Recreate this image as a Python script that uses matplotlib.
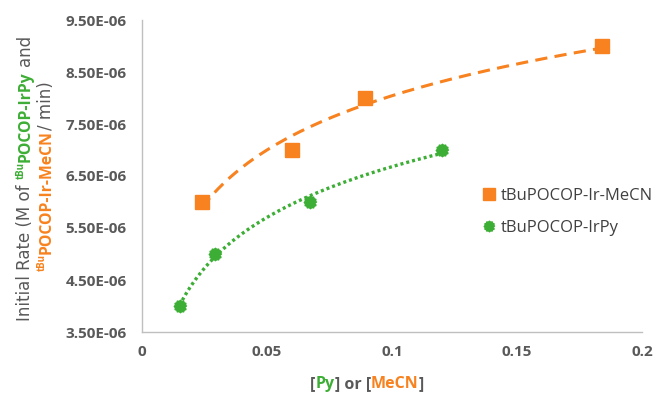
import numpy as np
import matplotlib
matplotlib.use('Agg')
import matplotlib.pyplot as plt
from matplotlib.transforms import IdentityTransform

plt.rcParams['font.family'] = ['Open Sans', 'DejaVu Sans']

# data
mecn_x = [0.024, 0.060, 0.089, 0.184]
mecn_y = [6.0e-6, 7.0e-6, 8.0e-6, 9.0e-6]
py_x = [0.015, 0.029, 0.067, 0.120]
py_y = [4.0e-6, 5.0e-6, 6.0e-6, 7.0e-6]

xticks = [0, 0.05, 0.1, 0.15, 0.2]
xtick_labels = ['0', '0.05', '0.1', '0.15', '0.2']
yticks = [3.5e-6, 4.5e-6, 5.5e-6, 6.5e-6, 7.5e-6, 8.5e-6, 9.5e-6]

ORANGE = '#F7821F'
GREEN = '#3DAE35'
GRAY = '#595959'

W, H = 663, 394
fig = plt.figure(figsize=(W / 100, H / 100), dpi=100)
ax = fig.add_axes([142 / W, 62 / H, 500 / W, 312 / H])

# serrated round marker for the IrPy series
ang = np.linspace(0, 2 * np.pi, 24, endpoint=False)
rad = np.where(np.arange(24) % 2 == 0, 1.0, 0.84)
gear = list(zip(rad * np.cos(ang), rad * np.sin(ang)))

# logarithmic trendlines (as Excel draws them)
def log_trend(x, y):
    a, b = np.polyfit(np.log(x), y, 1)
    xs = np.linspace(min(x), max(x), 200)
    return xs, a * np.log(xs) + b

tx, ty = log_trend(mecn_x, mecn_y)
ax.plot(tx, ty, color=ORANGE, lw=2.2, linestyle=(0, (4, 2.4)))
tx, ty = log_trend(py_x, py_y)
ax.plot(tx, ty, color=GREEN, lw=2.4, linestyle=(0, (0.9, 0.9)))

h1, = ax.plot(mecn_x, mecn_y, linestyle='none', marker='s', ms=10,
              color=ORANGE, label='tBuPOCOP-Ir-MeCN')
h2, = ax.plot(py_x, py_y, linestyle='none', marker=gear, ms=9,
              color=GREEN, label='tBuPOCOP-IrPy')

ax.set_xlim(0, 0.2)
ax.set_ylim(3.5e-6, 9.5e-6)
ax.set_xticks(xticks)
ax.set_xticklabels(xtick_labels)
ax.set_yticks(yticks)
ax.set_yticklabels(['%.2E' % v for v in yticks])
ax.tick_params(length=0, labelsize=11, labelcolor=GRAY)
ax.tick_params(axis='x', pad=9)
ax.tick_params(axis='y', pad=11)
for lab in ax.get_xticklabels() + ax.get_yticklabels():
    lab.set_fontweight('bold')

for s in ['top', 'right']:
    ax.spines[s].set_visible(False)
for s in ['left', 'bottom']:
    ax.spines[s].set_color('#BFBFBF')
    ax.spines[s].set_linewidth(1)

leg = fig.legend(handles=[h1, h2], loc='center left',
                 bbox_to_anchor=(474 / W, 1 - 212 / H), frameon=False,
                 fontsize=12, handlelength=0.8, handletextpad=0.3,
                 labelspacing=1.0, markerscale=0.85, borderpad=0)
for t in leg.get_texts():
    t.set_color('#404040')

# multi-coloured axis titles, drawn piece by piece
renderer = fig.canvas.get_renderer()


def text_w(s, size, weight, family):
    t = fig.text(0, 0, s, fontsize=size, fontweight=weight, family=family)
    w = t.get_window_extent(renderer).width
    t.remove()
    return w


def draw_rich(pieces, base, center, vertical):
    items = []
    total = 0
    for s, c, weight, family, fs, rise in pieces:
        sp = text_w('a a', fs, weight, family) - text_w('aa', fs, weight, family)
        core = s.strip()
        lead = (len(s) - len(s.lstrip())) * sp
        trail = (len(s) - len(s.rstrip())) * sp
        w = text_w(core, fs, weight, family)
        items.append((core, c, weight, family, fs, rise, lead, w, trail))
        total += lead + w + trail
    pos = center - total / 2
    for core, c, weight, family, fs, rise, lead, w, trail in items:
        pos += lead
        if vertical:
            fig.text(base - rise, pos, core, color=c, fontsize=fs, fontweight=weight,
                     family=family, rotation=90, rotation_mode='anchor',
                     ha='left', va='baseline', transform=IdentityTransform())
        else:
            fig.text(pos, base + rise, core, color=c, fontsize=fs, fontweight=weight,
                     family=family, ha='left', va='baseline',
                     transform=IdentityTransform())
        pos += w + trail


REG = ['DejaVu Sans']
BLD = ['Open Sans', 'DejaVu Sans']
ylab1 = [('Initial Rate (M of ', GRAY, 'normal', REG, 12, 0),
         ('tBu', GREEN, 'bold', BLD, 7, 6),
         ('POCOP-IrPy', GREEN, 'bold', BLD, 11.3, 0),
         (' and', GRAY, 'normal', REG, 12, 0)]
ylab2 = [('tBu', ORANGE, 'bold', BLD, 7, 6),
         ('POCOP-Ir-MeCN', ORANGE, 'bold', BLD, 11.3, 0),
         ('/ min)', GRAY, 'normal', REG, 12, 0)]
xlab = [('[', GRAY, 'bold', BLD, 11.5, 0), ('Py', GREEN, 'bold', BLD, 11.5, 0),
        ('] or [', GRAY, 'bold', BLD, 11.5, 0), ('MeCN', ORANGE, 'bold', BLD, 11.5, 0),
        (']', GRAY, 'bold', BLD, 11.5, 0)]

draw_rich(ylab1, 30, H - 178, True)
draw_rich(ylab2, 51, H - 176, True)
draw_rich(xlab, 6, 367, False)

fig.savefig('out.png', dpi=100)
